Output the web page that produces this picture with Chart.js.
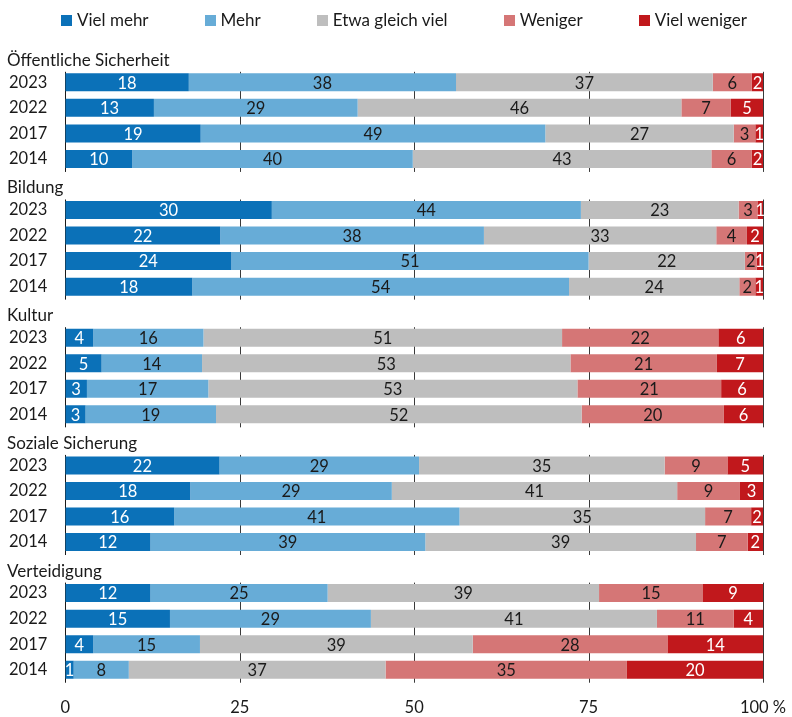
<!DOCTYPE html>
<html lang="de">
<head>
<meta charset="utf-8">
<title>Ausgaben des Staates</title>
<script src="https://cdn.jsdelivr.net/npm/chart.js@4"></script>
<style>
  html, body { margin: 0; padding: 0; background: #fff; }
  #wrap { position: relative; width: 792px; height: 717px; }
  #legend {
    position: absolute; top: 10px; left: 61px;
    display: flex; gap: 56px;
    font: 17px Lato, sans-serif; line-height: 20px; color: #1a1a1a;
  }
  #legend .item { display: flex; align-items: center; white-space: nowrap; }
  #legend .box { width: 11px; height: 11px; margin: 1px 5px 0 0; }
  canvas { display: block; }
</style>
</head>
<body>
<div id="wrap">
  <div id="legend"></div>
  <canvas id="chart" width="792" height="717"></canvas>
</div>
<script>
// Bereiche und Befragungsjahre
const topics = ['Öffentliche Sicherheit', 'Bildung', 'Kultur', 'Soziale Sicherung', 'Verteidigung'];
const years = ['2023', '2022', '2017', '2014'];

// Anteile in Prozent, je Bereich die Jahre 2023, 2022, 2017, 2014
const vielMehr = [17.7, 12.7, 19.4, 9.6,   29.6, 22.2, 23.8, 18.2,   4.0, 5.2, 3.1, 2.9,      22.1, 17.9, 15.6, 12.2,   12.2, 15.0, 4.0, 1.2];
const mehr     = [38.3, 29.2, 49.4, 40.2,  44.3, 37.8, 51.2, 54.0,   15.8, 14.4, 17.4, 18.7,  28.6, 28.9, 40.9, 39.4,   25.4, 28.8, 15.3, 7.9];
const gleich   = [36.8, 46.4, 27.0, 42.8,  22.6, 33.3, 22.4, 24.4,   51.4, 52.8, 52.9, 52.4,  35.2, 40.9, 35.2, 38.8,   38.9, 41.0, 39.1, 36.8];
const weniger  = [5.6, 7.1, 3.1, 5.8,      2.7, 4.4, 1.7, 2.3,       22.4, 21.0, 20.6, 20.4,  9.0, 9.0, 6.6, 7.4,       14.9, 11.0, 27.9, 34.6];
const vielWeniger = [1.6, 4.6, 1.1, 1.6,   0.8, 2.3, 0.9, 1.1,       6.4, 6.6, 6.0, 5.6,      5.1, 3.3, 1.7, 2.2,       8.6, 4.2, 13.7, 19.5];

const seriesNames = ['Viel mehr', 'Mehr', 'Etwa gleich viel', 'Weniger', 'Viel weniger'];
const seriesColors = ['#0b71b8', '#67acd7', '#bebebe', '#d57676', '#c1181c'];
const labelColors = ['#ffffff', '#1a1a1a', '#1a1a1a', '#1a1a1a', '#ffffff'];
const xTicks = [0, 25, 50, 75, 100];

const FONT = 'Lato, sans-serif';
const TEXT = '#1a1a1a';

// eine Zeile pro Bereich (Überschrift) plus je eine Zeile pro Jahr
const rows = [];
topics.forEach(t => { rows.push(t); years.forEach(y => rows.push(y)); });
const isHeader = i => i % (years.length + 1) === 0;

function toRows(values) {
  const out = [];
  values.forEach((v, i) => {
    if (i % years.length === 0) out.push(null);
    out.push(v);
  });
  return out;
}

const series = [vielMehr, mehr, gleich, weniger, vielWeniger];

// senkrechte Linien, je Bereich nur neben den Balken
const panelLines = {
  id: 'panelLines',
  beforeDatasetsDraw(chart) {
    const { ctx, scales: { x, y } } = chart;
    ctx.save();
    ctx.lineWidth = 1;
    topics.forEach((t, g) => {
      const first = g * (years.length + 1) + 1;
      const top = y.getPixelForValue(first) - 10.5;
      const bottom = y.getPixelForValue(first + years.length - 1) + 13;
      xTicks.forEach(v => {
        const px = Math.round(x.getPixelForValue(v)) + 0.5;
        ctx.strokeStyle = v === 0 ? '#1a1a1a' : '#3a3a3a';
        ctx.beginPath();
        ctx.moveTo(px, top);
        ctx.lineTo(px, bottom);
        ctx.stroke();
      });
    });
    ctx.restore();
  }
};

// Zahlen in die Balkensegmente schreiben
const segmentLabels = {
  id: 'segmentLabels',
  afterDatasetsDraw(chart) {
    const { ctx } = chart;
    ctx.save();
    ctx.font = '16.5px ' + FONT;
    ctx.textAlign = 'center';
    ctx.textBaseline = 'middle';
    chart.data.datasets.forEach((ds, di) => {
      chart.getDatasetMeta(di).data.forEach((bar, i) => {
        const v = ds.data[i];
        if (v == null) return;
        const { x, base, y } = bar.getProps(['x', 'base', 'y'], true);
        ctx.fillStyle = labelColors[di];
        ctx.fillText(String(Math.round(v)), (x + base) / 2, y + 1);
      });
    });
    ctx.restore();
  }
};

// Bereichsüberschriften links über den Jahren
const topicTitles = {
  id: 'topicTitles',
  afterDraw(chart) {
    const { ctx, scales: { y } } = chart;
    ctx.save();
    ctx.font = '17px ' + FONT;
    ctx.fillStyle = TEXT;
    ctx.textAlign = 'left';
    ctx.textBaseline = 'alphabetic';
    topics.forEach((t, g) => {
      ctx.fillText(t, 7, y.getPixelForValue(g * (years.length + 1)) + 9);
    });
    ctx.restore();
  }
};

const chart = new Chart(document.getElementById('chart'), {
  type: 'bar',
  data: {
    labels: rows,
    datasets: series.map((values, i) => ({
      label: seriesNames[i],
      data: toRows(values),
      backgroundColor: seriesColors[i],
      borderWidth: 0,
      barPercentage: 0.705,
      categoryPercentage: 1
    }))
  },
  options: {
    indexAxis: 'y',
    responsive: false,
    animation: false,
    layout: { padding: { top: 44, right: 29, bottom: 0, left: 0 } },
    plugins: {
      legend: { display: false },
      tooltip: { enabled: false }
    },
    scales: {
      x: {
        stacked: true,
        min: 0,
        max: 100,
        grid: { display: false, drawTicks: false },
        border: { display: false },
        afterBuildTicks: s => { s.ticks = xTicks.map(v => ({ value: v })); },
        afterFit: s => {
          s.height = 34.5;
          s.paddingLeft = 0;
          s.paddingRight = 0;
        },
        ticks: {
          padding: 15,
          maxRotation: 0,
          color: TEXT,
          font: { family: FONT, size: 16.5 },
          callback: v => (v === 100 ? '100 %' : String(v))
        }
      },
      y: {
        stacked: true,
        grid: { display: false, drawTicks: false },
        border: { display: false },
        afterFit: s => { s.width = 65.3; },
        ticks: {
          autoSkip: false,
          padding: 18,
          crossAlign: 'near',
          color: TEXT,
          font: { family: FONT, size: 16.5 },
          callback: (v, i) => (isHeader(i) ? '' : rows[i])
        }
      }
    }
  },
  plugins: [panelLines, segmentLabels, topicTitles]
});

// Legende als HTML über der Grafik
const legendEl = document.getElementById('legend');
chart.data.datasets.forEach(ds => {
  const item = document.createElement('span');
  item.className = 'item';
  const box = document.createElement('span');
  box.className = 'box';
  box.style.background = ds.backgroundColor;
  item.appendChild(box);
  item.appendChild(document.createTextNode(ds.label));
  legendEl.appendChild(item);
});
</script>
</body>
</html>
